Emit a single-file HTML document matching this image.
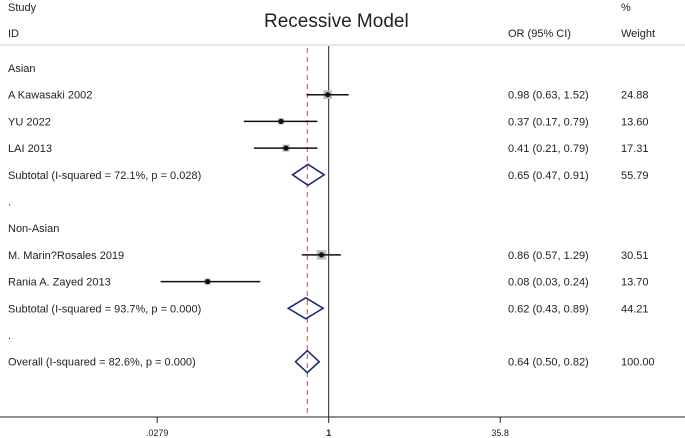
<!DOCTYPE html>
<html><head><meta charset="utf-8"><style>
body{margin:0;background:#fff}
svg{display:block;font-family:"Liberation Sans",Arial,sans-serif}
text{font-size:11px;fill:#222}
</style></head><body>
<svg id="chart" width="685" height="438" viewBox="0 0 685 438">
<text x="8" y="11">Study</text>
<text x="8" y="37">ID</text>
<text x="264" y="27" style="font-size:19px">Recessive  Model</text>
<text x="508" y="37">OR (95% CI)</text>
<text x="621" y="11">%</text>
<text x="621" y="37">Weight</text>
<line x1="0" y1="45" x2="685" y2="45" stroke="#ccc"/>
<g id="marks"></g>
</svg>
<script>
const labels=["Asian","A Kawasaki 2002","YU 2022","LAI 2013","Subtotal  (I-squared = 72.1%, p = 0.028)",".","Non-Asian","M. Marin?Rosales 2019","Rania A. Zayed 2013","Subtotal  (I-squared = 93.7%, p = 0.000)",".","Overall  (I-squared = 82.6%, p = 0.000)"];
const kinds=["h","s","s","s","d","b","h","s","s","d","b","d"];
const orVals=[null,0.98,0.37,0.41,0.65,null,null,0.86,0.08,0.62,null,0.64];
const loVals=[null,0.63,0.17,0.21,0.47,null,null,0.57,0.03,0.43,null,0.50];
const hiVals=[null,1.52,0.79,0.79,0.91,null,null,1.29,0.24,0.89,null,0.82];
const weights=[null,24.88,13.60,17.31,55.79,null,null,30.51,13.70,44.21,null,100.00];
const tickVals=[0.0279,1,35.8];
const tickLabels=[".0279","1","35.8"];
const overall=0.64;
const NS="http://www.w3.org/2000/svg";
const g=document.getElementById("marks");
const xs=v=>328.7+Math.log(v)/Math.log(35.8)*171.5;
const ys=i=>68+i*26.7;
function mk(t,a,p){const e=document.createElementNS(NS,t);for(const k in a)e.setAttribute(k,a[k]);(p||g).appendChild(e);return e;}
// axis
const ax=mk("line",{x1:0,y1:417,x2:685,y2:417,stroke:"#222"});


const ref=mk("line",{x1:xs(1),y1:46,x2:xs(1),y2:417,stroke:"#222"});


const dl=mk("line",{x1:xs(overall),y1:48,x2:xs(overall),y2:417,stroke:"#c0504d","stroke-dasharray":"5,4"});


tickVals.forEach((v,i)=>{
 const t=mk("line",{x1:xs(v),y1:417,x2:xs(v),y2:423,stroke:"#222"});
 
 
 const l=mk("text",{x:xs(v),y:436,"text-anchor":"middle",style:"font-size:9px"+(v===1?";font-weight:bold":"")});
 l.textContent=tickLabels[i];
 
 
});
labels.forEach((lab,i)=>{
 const y=ys(i);
 const t=mk("text",{x:8,y:y+4});t.textContent=lab;
 
 
 if(orVals[i]==null)return;
 const o=mk("text",{x:508,y:y+4});o.textContent=orVals[i].toFixed(2)+" ("+loVals[i].toFixed(2)+", "+hiVals[i].toFixed(2)+")";
 
 
 const w=mk("text",{x:621,y:y+4});w.textContent=weights[i].toFixed(2);
 
 
 if(kinds[i]==="s"){
  const s=Math.sqrt(weights[i])*1.7;
  const sq=mk("rect",{x:xs(orVals[i])-s/2,y:y-s/2,width:s,height:s,fill:"#bbb"});
  
  
  const ln=mk("line",{x1:xs(loVals[i]),y1:y,x2:xs(hiVals[i]),y2:y,stroke:"#111","stroke-width":1.5});
  
  
  const d=mk("circle",{cx:xs(orVals[i]),cy:y,r:2.6,fill:"#111"});
  
  
 }else{
  const h=i===11?11:10.5;
  const p=mk("polygon",{points:`${xs(loVals[i])},${y} ${xs(orVals[i])},${y-h} ${xs(hiVals[i])},${y} ${xs(orVals[i])},${y+h}`,fill:"none",stroke:"#1f2a7a","stroke-width":1.6});
  
  
 }
});
</script>
</body></html>
